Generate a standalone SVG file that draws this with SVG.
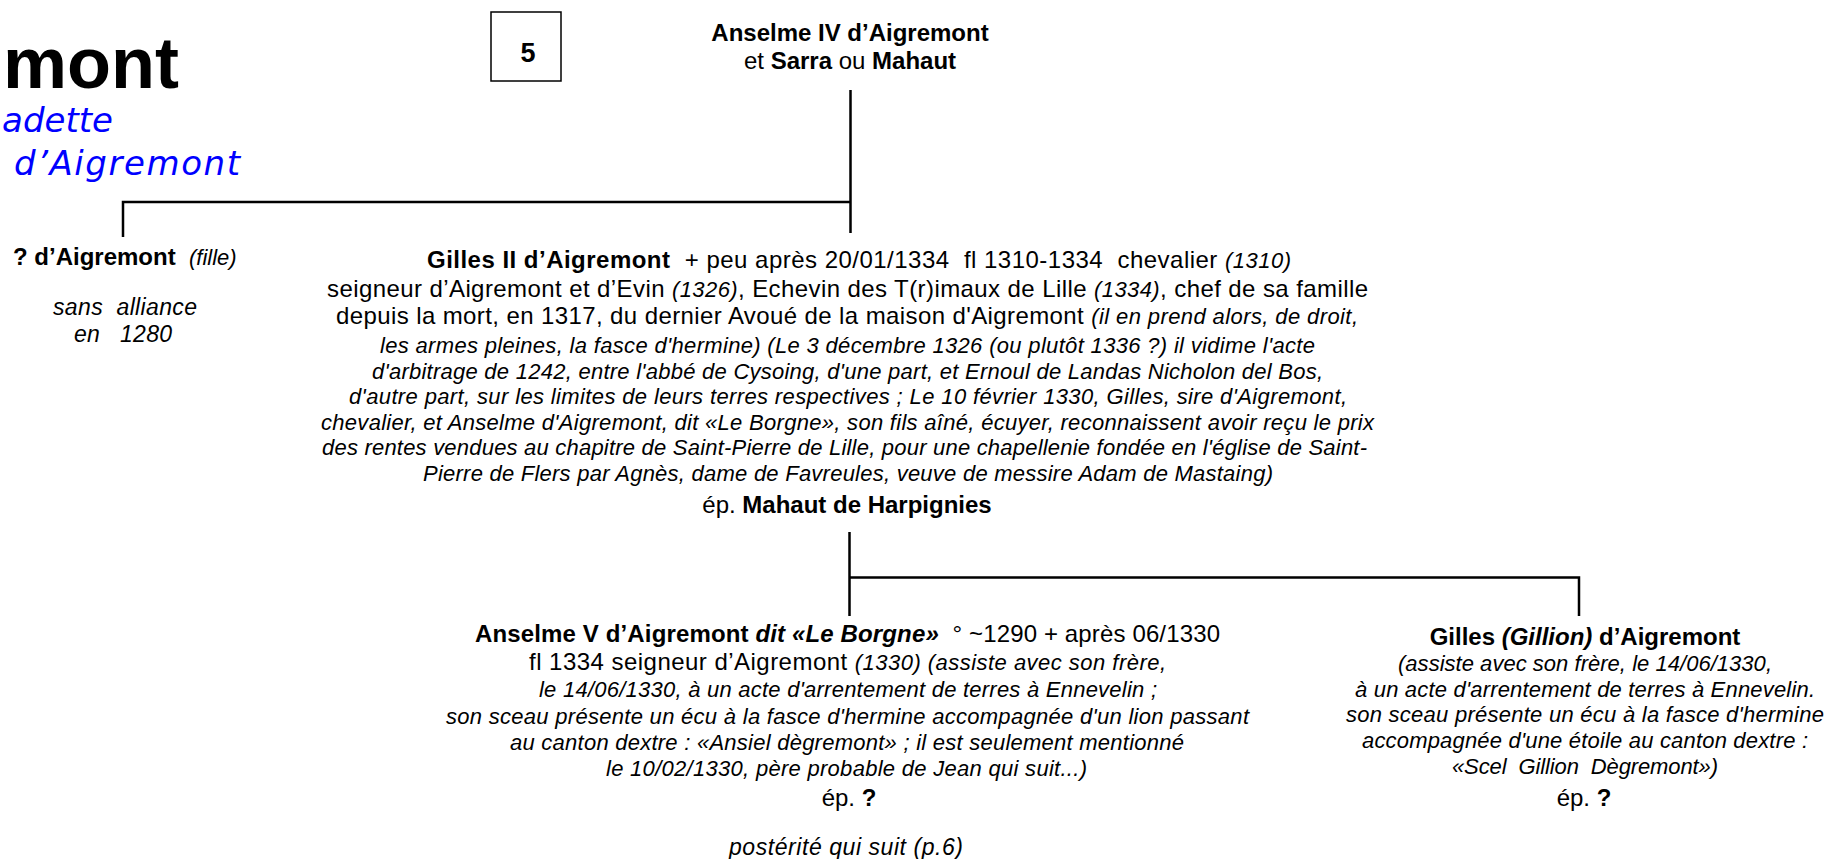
<svg xmlns="http://www.w3.org/2000/svg" width="1829" height="859" viewBox="0 0 1829 859">
<style>
text{font-family:"Liberation Sans",Arial,sans-serif;font-size:24px;fill:#000}
.b{font-weight:bold}
.i{font-style:italic;font-size:22px}
.ii{font-style:italic}
.c{text-anchor:middle}
.t{font-size:72px;font-weight:bold;text-anchor:end}
.blue{font-family:"DejaVu Sans",Verdana,sans-serif;font-style:italic;font-size:34px;fill:#0000ff}
.ln{stroke:#000;stroke-width:2.5;fill:none}
</style>
<rect width="1829" height="859" fill="#fff"/>
<g id="title">
<text class="t" x="179" y="88">mont</text>
<text class="blue" x="113" y="132" text-anchor="end">adette</text>
<text class="blue" x="14" y="175" textLength="226" lengthAdjust="spacing">d’Aigremont</text>
</g>
<g id="page-box">
<rect x="491" y="12" width="70" height="69" fill="none" stroke="#000" stroke-width="1.5"/>
<text class="b c" x="528" y="62" style="font-size:27px">5</text>
</g>
<g id="connectors">
<path class="ln" d="M850.5 90 V233 M123 202 H850.5 M123 200.8 V237"/>
<path class="ln" d="M849.5 532 V616 M849.5 577.5 H1579 V616"/>
</g>
<g id="anselme4">
<text class="b c" x="850" y="41">Anselme IV d’Aigremont</text>
<text class="c" x="850" y="68.5">et <tspan class="b">Sarra</tspan> ou <tspan class="b">Mahaut</tspan></text>
</g>
<g id="fille">
<text x="13" y="265" xml:space="preserve"><tspan class="b">? d’Aigremont</tspan>  <tspan class="ii" style="font-size:22px">(fille)</tspan></text>
<text class="i" x="53" y="315" textLength="144" lengthAdjust="spacing" xml:space="preserve" style="font-size:23px">sans  alliance</text>
<text class="i" x="74" y="342" textLength="98" lengthAdjust="spacing" xml:space="preserve" style="font-size:23px">en   1280</text>
</g>
<g id="gilles2">
<text x="427" y="268" textLength="864" lengthAdjust="spacing" xml:space="preserve"><tspan class="b">Gilles II d’Aigremont</tspan>  + peu après 20/01/1334  fl 1310-1334  chevalier <tspan class="i">(1310)</tspan></text>
<text x="327" y="296.5" textLength="1041" lengthAdjust="spacing" xml:space="preserve">seigneur d’Aigremont et d’Evin <tspan class="i">(1326)</tspan>, Echevin des T(r)imaux de Lille <tspan class="i">(1334)</tspan>, chef de sa famille</text>
<text x="336" y="324" textLength="1022" lengthAdjust="spacing" xml:space="preserve">depuis la mort, en 1317, du dernier Avoué de la maison d'Aigremont <tspan class="i">(il en prend alors, de droit,</tspan></text>
<text class="i" x="380" y="353" textLength="935" lengthAdjust="spacing">les armes pleines, la fasce d'hermine) (Le 3 décembre 1326 (ou plutôt 1336 ?) il vidime l'acte</text>
<text class="i" x="372" y="378.5" textLength="951" lengthAdjust="spacing">d'arbitrage de 1242, entre l'abbé de Cysoing, d'une part, et Ernoul de Landas Nicholon del Bos,</text>
<text class="i" x="349" y="404" textLength="998" lengthAdjust="spacing">d'autre part, sur les limites de leurs terres respectives ; Le 10 février 1330, Gilles, sire d'Aigremont,</text>
<text class="i" x="321" y="429.5" textLength="1053" lengthAdjust="spacing">chevalier, et Anselme d'Aigremont, dit «Le Borgne», son fils aîné, écuyer, reconnaissent avoir reçu le prix</text>
<text class="i" x="322" y="455" textLength="1045" lengthAdjust="spacing">des rentes vendues au chapitre de Saint-Pierre de Lille, pour une chapellenie fondée en l'église de Saint-</text>
<text class="i" x="423" y="480.5" textLength="850" lengthAdjust="spacing">Pierre de Flers par Agnès, dame de Favreules, veuve de messire Adam de Mastaing)</text>
<text class="c" x="847" y="513">ép. <tspan class="b">Mahaut de Harpignies</tspan></text>
</g>
<g id="anselme5">
<text x="475" y="642" textLength="745" lengthAdjust="spacing" xml:space="preserve"><tspan class="b">Anselme V d’Aigremont </tspan><tspan class="b ii">dit «Le Borgne»</tspan>  ° ~1290 + après 06/1330</text>
<text x="529" y="670" textLength="637" lengthAdjust="spacing" xml:space="preserve">fl 1334 seigneur d’Aigremont <tspan class="i">(1330) (assiste avec son frère,</tspan></text>
<text class="i" x="539" y="697" textLength="618" lengthAdjust="spacing">le 14/06/1330, à un acte d'arrentement de terres à Ennevelin ;</text>
<text class="i" x="446" y="724" textLength="803" lengthAdjust="spacing">son sceau présente un écu à la fasce d'hermine accompagnée d'un lion passant</text>
<text class="i" x="510" y="750" textLength="674" lengthAdjust="spacing">au canton dextre : «Ansiel dègremont» ; il est seulement mentionné</text>
<text class="i" x="606" y="776" textLength="481" lengthAdjust="spacing">le 10/02/1330, père probable de Jean qui suit...)</text>
<text class="c" x="849" y="806">ép. <tspan class="b">?</tspan></text>
<text class="i" x="729" y="854.5" textLength="234" lengthAdjust="spacing" style="font-size:23px">postérité qui suit (p.6)</text>
</g>
<g id="gilles-gillion">
<text class="c" x="1585" y="645"><tspan class="b">Gilles </tspan><tspan class="b ii">(Gillion)</tspan><tspan class="b"> d’Aigremont</tspan></text>
<text class="i" x="1398" y="671" textLength="374" lengthAdjust="spacing">(assiste avec son frère, le 14/06/1330,</text>
<text class="i" x="1355" y="697" textLength="460" lengthAdjust="spacing">à un acte d'arrentement de terres à Ennevelin.</text>
<text class="i" x="1346" y="722" textLength="478" lengthAdjust="spacing">son sceau présente un écu à la fasce d'hermine</text>
<text class="i" x="1362" y="748" textLength="446" lengthAdjust="spacing">accompagnée d'une étoile au canton dextre :</text>
<text class="i" x="1452" y="774" textLength="266" lengthAdjust="spacing" xml:space="preserve">«Scel  Gillion  Dègremont»)</text>
<text class="c" x="1584" y="806">ép. <tspan class="b">?</tspan></text>
</g>
</svg>
